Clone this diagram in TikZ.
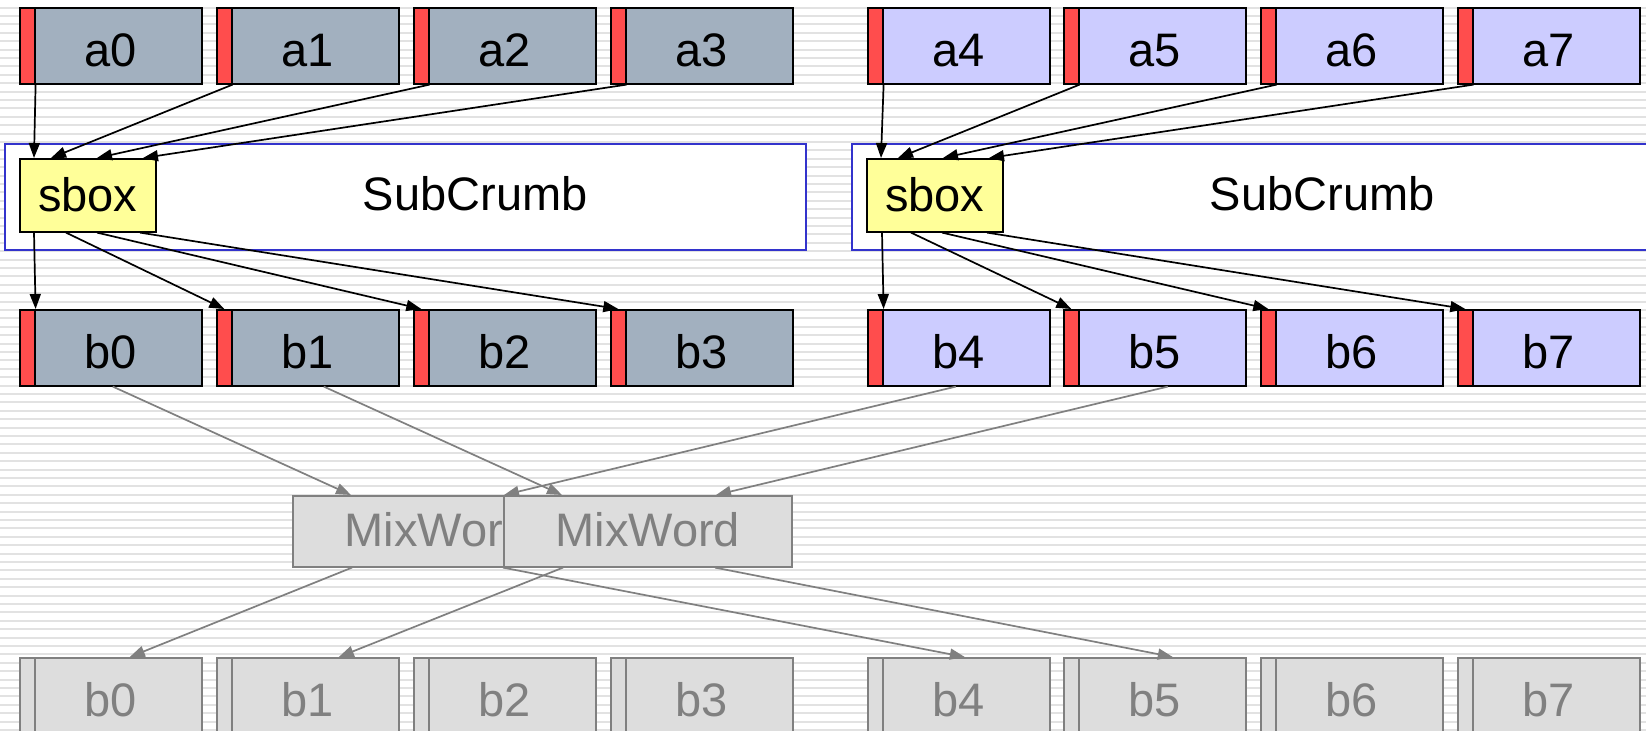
\documentclass[tikz,border=0pt]{standalone}
\usepackage{fontspec}
\setmainfont{Liberation Sans}
\usetikzlibrary{arrows.meta,calc}

\definecolor{stripe}{RGB}{226,226,226}
\definecolor{slate}{RGB}{162,176,191}
\definecolor{lav}{RGB}{204,204,255}
\definecolor{redbar}{RGB}{255,77,77}
\definecolor{sboxy}{RGB}{255,255,153}
\definecolor{crumb}{RGB}{51,51,204}
\definecolor{ghost}{RGB}{221,221,221}
\definecolor{ghostline}{RGB}{128,128,128}

\newcommand\cellfont{\fontsize{47bp}{56bp}\selectfont}

\tikzset{
  cell/.style={draw=black, line width=1.6bp, minimum width=182bp, minimum height=76bp,
    inner sep=0pt, anchor=north west, font=\cellfont, text height=41bp, text depth=0pt},
  cellA/.style={cell, fill=slate},
  cellB/.style={cell, fill=lav},
  cellG/.style={cell, draw=ghostline, fill=ghost, text=ghostline},
  bar/.style={draw=black, fill=redbar, line width=1.6bp, minimum width=15bp,
    minimum height=76bp, inner sep=0pt, anchor=north west},
  barG/.style={bar, draw=ghostline, fill=ghost},
  crumbbox/.style={draw=crumb, fill=white, line width=1.6bp, minimum width=801bp,
    minimum height=106bp, inner sep=0pt, anchor=north west},
  sboxnode/.style={draw=black, fill=sboxy, line width=1.6bp, minimum width=136bp,
    minimum height=73bp, inner sep=0pt, anchor=north west, font=\cellfont,
    text height=33bp, text depth=0pt},
  mixnode/.style={draw=ghostline, fill=ghost, line width=1.6bp, minimum width=288bp,
    minimum height=71bp, inner sep=0pt, anchor=north west, font=\cellfont,
    text=ghostline, text height=31bp, text depth=0pt},
  arr/.style={line width=1.7bp, -{Triangle[length=15bp,width=11bp]}},
  garr/.style={arr, draw=ghostline, fill=ghostline},
}

\begin{document}
\begin{tikzpicture}[x=1bp, y=-1bp]
\useasboundingbox (0,0) rectangle (1646,731);
\fill[white] (0,0) rectangle (1646,731);
% ruled background
\foreach \k in {0,...,87}
  \fill[stripe] (0,{7.6+8.4*\k-1}) rectangle (1646,{7.6+8.4*\k+1});

% SubCrumb frames with their S-boxes
\node[crumbbox, label={[font=\cellfont, xshift=70bp, text height=28bp, text depth=0pt]center:SubCrumb}] (sc1) at (4,143) {};
\node[crumbbox, label={[font=\cellfont, xshift=70bp, text height=28bp, text depth=0pt]center:SubCrumb}] (sc2) at (851,143) {};
\node[sboxnode] (s1) at (19,158) {sbox};
\node[sboxnode] (s2) at (866,158) {sbox};

% input words a0..a7 and output words b0..b7
\foreach \i/\x in {0/19,1/216,2/413,3/610} {
  \node[cellA] (a\i) at (\x,7) {a\i};
  \node[bar] (ar\i) at (\x,7) {};
  \node[cellA] (b\i) at (\x,309) {b\i};
  \node[bar] (br\i) at (\x,309) {};
  \node[cellG] (c\i) at (\x,657) {b\i};
  \node[barG] (cr\i) at (\x,657) {};
}
\foreach \i/\x in {4/867,5/1063,6/1260,7/1457} {
  \node[cellB] (a\i) at (\x,7) {a\i};
  \node[bar] (ar\i) at (\x,7) {};
  \node[cellB] (b\i) at (\x,309) {b\i};
  \node[bar] (br\i) at (\x,309) {};
  \node[cellG] (c\i) at (\x,657) {b\i};
  \node[barG] (cr\i) at (\x,657) {};
}

% word mixers
\node[mixnode] (m1) at (292,495) {MixWord};
\node[mixnode] (m2) at (503,495) {MixWord};

% a -> sbox
\draw[arr] (ar0.south east) -- ($(s1.north west)+(15,0)$);
\draw[arr] (ar1.south east) -- ($(s1.north west)+(32,0)$);
\draw[arr] (ar2.south east) -- ($(s1.north west)+(78,0)$);
\draw[arr] (ar3.south east) -- ($(s1.north west)+(124,0)$);
\draw[arr] (ar4.south east) -- ($(s2.north west)+(15,0)$);
\draw[arr] (ar5.south east) -- ($(s2.north west)+(32,0)$);
\draw[arr] (ar6.south east) -- ($(s2.north west)+(77,0)$);
\draw[arr] (ar7.south east) -- ($(s2.north west)+(123,0)$);

% sbox -> b
\draw[arr] ($(s1.south west)+(15,0)$) -- (br0.north east);
\draw[arr] ($(s1.south west)+(47,0)$) -- (br1.north);
\draw[arr] ($(s1.south west)+(78,0)$) -- (br2.north);
\draw[arr] ($(s1.south west)+(121,0)$) -- (br3.north);
\draw[arr] ($(s2.south west)+(16,0)$) -- (br4.north east);
\draw[arr] ($(s2.south west)+(45,0)$) -- (br5.north);
\draw[arr] ($(s2.south west)+(76,0)$) -- (br6.north);
\draw[arr] ($(s2.south west)+(121,0)$) -- (br7.north);

% b -> MixWord
\draw[garr] ($(b0.south)+(2,0)$) -- ($(m1.north west)+(59,0)$);
\draw[garr] ($(b4.south)+(-3,0)$) -- ($(m1.north west)+(212,0)$);
\draw[garr] ($(b1.south)+(16,0)$) -- ($(m2.north west)+(59,0)$);
\draw[garr] ($(b5.south)+(13,0)$) -- ($(m2.north west)+(213,0)$);

% MixWord -> next b
\draw[garr] ($(m1.south west)+(60,0)$) -- ($(c0.north)+(19,0)$);
\draw[garr] ($(m1.south west)+(211,0)$) -- ($(c4.north)+(6,0)$);
\draw[garr] ($(m2.south west)+(60,0)$) -- ($(c1.north)+(31,0)$);
\draw[garr] ($(m2.south west)+(212,0)$) -- ($(c5.north)+(18,0)$);
\end{tikzpicture}
\end{document}
